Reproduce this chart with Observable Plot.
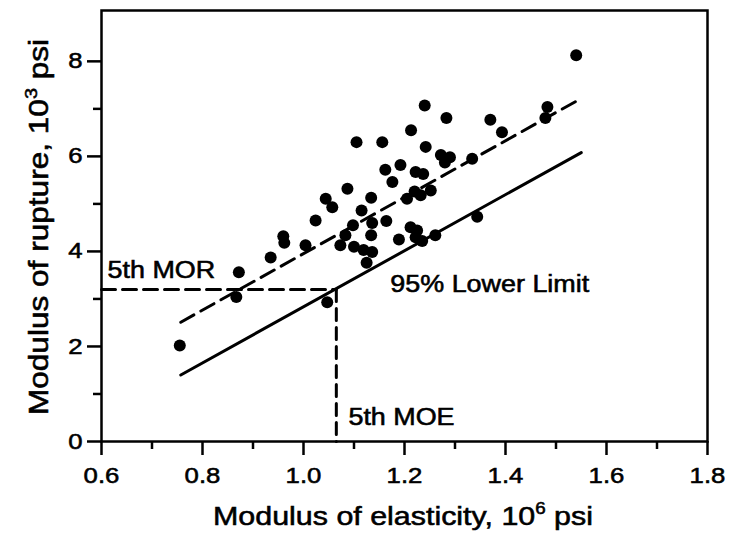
<!DOCTYPE html>
<html>
<head>
<meta charset="utf-8">
<script src="https://cdn.jsdelivr.net/npm/d3@7"></script>
<script src="https://cdn.jsdelivr.net/npm/@observablehq/plot@0.6"></script>
<style>
  html, body { margin: 0; padding: 0; background: #fff; }
  svg text { font-family: "Liberation Sans", Arial, sans-serif; }
</style>
</head>
<body>
<div id="chart"></div>
<script>
// Measured specimens: MOE (10^6 psi) and MOR (10^3 psi)
const moe = [0.755,0.867,0.872,0.935,0.960,0.962,1.004,1.024,1.044,1.057,1.047,1.087,1.105,1.156,1.134,1.162,1.176,1.192,1.115,1.098,1.083,1.073,1.100,1.119,1.136,1.125,1.134,1.136,1.164,1.189,1.212,1.225,1.222,1.235,1.261,1.205,1.220,1.232,1.252,1.222,1.237,1.213,1.240,1.242,1.283,1.272,1.290,1.280,1.334,1.344,1.370,1.393,1.479,1.483,1.540];
const mor = [2.02,3.04,3.56,3.87,4.32,4.18,4.13,4.65,5.11,4.93,2.93,5.32,6.30,6.30,5.13,5.72,5.46,5.82,4.86,4.55,4.34,4.13,4.10,4.03,3.99,3.76,4.34,4.60,4.64,4.25,4.51,4.44,4.30,4.22,4.34,5.11,5.26,5.18,5.28,5.67,5.63,6.55,7.07,6.20,6.81,6.03,5.98,5.87,5.95,4.73,6.77,6.51,6.81,7.04,8.13];

// Regression line (dashed) and 95% lower limit (solid)
const fitX = [0.757, 1.55];
const fitMean = [2.51, 7.22];
const fitLower = [1.40, 6.08];

// 5th percentile reference values
const mor5 = 3.2;
const moe5 = 1.065;

// Ticks
const xMajor = [0.6, 0.8, 1.0, 1.2, 1.4, 1.6, 1.8];
const xMinor = [0.7, 0.9, 1.1, 1.3, 1.5, 1.7];
const yMajor = [0, 2, 4, 6, 8];
const yMinor = [1, 3, 5, 7];

// Annotation labels
const notes = ["5th MOR", "95% Lower Limit", "5th MOE"];
const noteX = [0.612, 1.172, 1.089];
const noteY = [3.6, 3.31, 0.5];

const points = moe.map((x, i) => ({x, y: mor[i]}));
const meanLine = fitX.map((x, i) => ({x, y: fitMean[i]}));
const lowerLine = fitX.map((x, i) => ({x, y: fitLower[i]}));
const morRef = [{x: 0.6, y: mor5}, {x: moe5, y: mor5}];
const moeRef = [{x: moe5, y: mor5}, {x: moe5, y: 0}];
const noteData = notes.map((t, i) => ({t, x: noteX[i], y: noteY[i]}));

const plot = Plot.plot({
  width: 735,
  height: 542,
  marginLeft: 101,
  marginRight: 28,
  marginTop: 10,
  marginBottom: 101,
  style: {fontFamily: '"Liberation Sans", Arial, sans-serif', color: "#000", background: "#fff"},
  x: {domain: [0.6, 1.8]},
  y: {domain: [0, 9.07]},
  marks: [
    Plot.line(meanLine, {x: "x", y: "y", stroke: "#000", strokeWidth: 3, strokeDasharray: "15,8"}),
    Plot.line(lowerLine, {x: "x", y: "y", stroke: "#000", strokeWidth: 3}),
    Plot.line(morRef, {x: "x", y: "y", stroke: "#000", strokeWidth: 3, strokeDasharray: "14,7"}),
    Plot.line(moeRef, {x: "x", y: "y", stroke: "#000", strokeWidth: 3, strokeDasharray: "12,7"}),
    Plot.dot(points, {x: "x", y: "y", r: 6, fill: "#000", stroke: "none"}),
    Plot.text(noteData, {x: "x", y: "y", text: "t", textAnchor: "start", fontSize: 23, fill: "#000"}),
    Plot.frame({stroke: "#000", strokeWidth: 2.5}),
    Plot.axisX({ticks: xMajor, tickSize: 14, tickPadding: 12, tickFormat: d3.format(".1f"), fontSize: 22, label: null, strokeWidth: 2.5}),
    Plot.axisX({ticks: xMinor, tickSize: 8, tickFormat: () => "", label: null, strokeWidth: 2.5}),
    Plot.axisY({ticks: yMajor, tickSize: 14, tickPadding: 5, fontSize: 22, label: null, strokeWidth: 2.5}),
    Plot.axisY({ticks: yMinor, tickSize: 8, tickFormat: () => "", label: null, strokeWidth: 2.5})
  ]
});

document.getElementById("chart").appendChild(plot);
const svg = d3.select(plot);

// Axis titles with superscripts
const xt = svg.append("text")
  .attr("x", 403).attr("y", 525)
  .attr("text-anchor", "middle")
  .attr("font-size", 26).attr("fill", "#000");
xt.append("tspan").text("Modulus of elasticity, 10");
xt.append("tspan").attr("font-size", 16).attr("dy", -11).text("6");
xt.append("tspan").attr("dy", 11).text(" psi");

const yt = svg.append("text")
  .attr("transform", "translate(48,227) rotate(-90)")
  .attr("text-anchor", "middle")
  .attr("font-size", 27).attr("fill", "#000");
yt.append("tspan").text("Modulus of rupture, 10");
yt.append("tspan").attr("font-size", 17).attr("dy", -11).text("3");
yt.append("tspan").attr("dy", 11).text(" psi");

// Widen glyphs horizontally (about each text's anchor) and thicken strokes,
// to match the reference's broad, heavy lettering
const S = 1.17;
svg.selectAll("text").each(function() {
  const xa = this.getAttribute("x");
  const x = xa && !/[a-z%]/i.test(xa) ? +xa : 0;
  const t = this.getAttribute("transform") || "";
  this.setAttribute("transform", `${t} translate(${x},0) scale(${S},1) translate(${-x},0)`);
  this.setAttribute("stroke", "#000");
  this.setAttribute("stroke-width", "0.55");
});
</script>
</body>
</html>
